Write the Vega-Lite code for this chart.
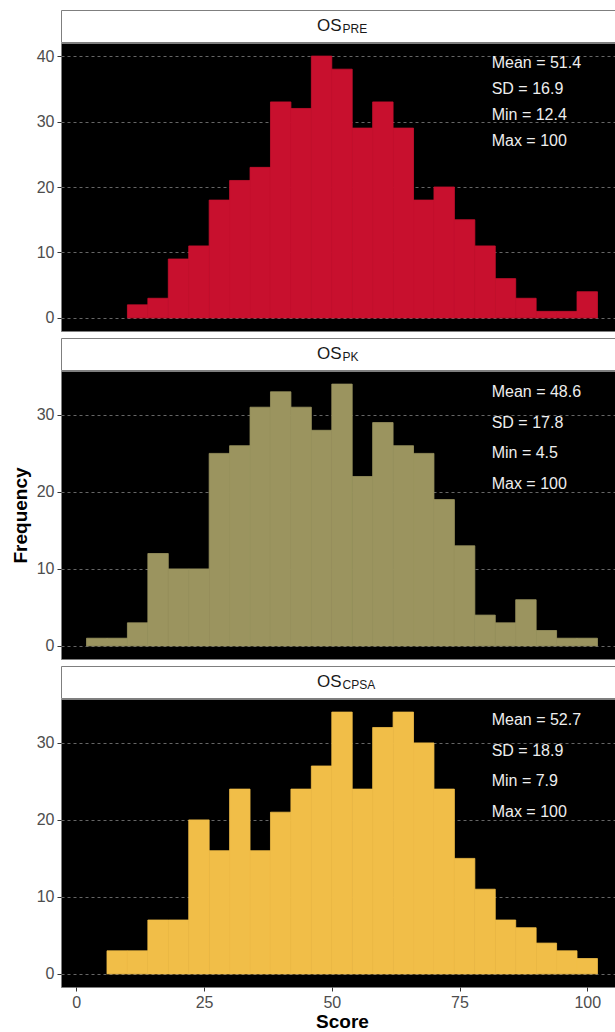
{
  "$schema": "https://vega.github.io/schema/vega-lite/v6.json",
  "padding": {"left": 10, "top": 9, "right": 0, "bottom": 0},
  "background": "#ffffff",
  "config": {"font": "Liberation Sans", "view": {"stroke": null}},
  "datasets": {
    "strips": [
      {"panel": "PRE", "main": "OS", "sub": "PRE"},
      {"panel": "PK", "main": "OS", "sub": "PK"},
      {"panel": "CPSA", "main": "OS", "sub": "CPSA"}
    ],
    "bars": [
      {"panel": "PRE", "lo": 10, "hi": 14, "count": 2},
      {"panel": "PRE", "lo": 14, "hi": 18, "count": 3},
      {"panel": "PRE", "lo": 18, "hi": 22, "count": 9},
      {"panel": "PRE", "lo": 22, "hi": 26, "count": 11},
      {"panel": "PRE", "lo": 26, "hi": 30, "count": 18},
      {"panel": "PRE", "lo": 30, "hi": 34, "count": 21},
      {"panel": "PRE", "lo": 34, "hi": 38, "count": 23},
      {"panel": "PRE", "lo": 38, "hi": 42, "count": 33},
      {"panel": "PRE", "lo": 42, "hi": 46, "count": 32},
      {"panel": "PRE", "lo": 46, "hi": 50, "count": 40},
      {"panel": "PRE", "lo": 50, "hi": 54, "count": 38},
      {"panel": "PRE", "lo": 54, "hi": 58, "count": 29},
      {"panel": "PRE", "lo": 58, "hi": 62, "count": 33},
      {"panel": "PRE", "lo": 62, "hi": 66, "count": 29},
      {"panel": "PRE", "lo": 66, "hi": 70, "count": 18},
      {"panel": "PRE", "lo": 70, "hi": 74, "count": 20},
      {"panel": "PRE", "lo": 74, "hi": 78, "count": 15},
      {"panel": "PRE", "lo": 78, "hi": 82, "count": 11},
      {"panel": "PRE", "lo": 82, "hi": 86, "count": 6},
      {"panel": "PRE", "lo": 86, "hi": 90, "count": 3},
      {"panel": "PRE", "lo": 90, "hi": 94, "count": 1},
      {"panel": "PRE", "lo": 94, "hi": 98, "count": 1},
      {"panel": "PRE", "lo": 98, "hi": 102, "count": 4},
      {"panel": "PK", "lo": 2, "hi": 6, "count": 1},
      {"panel": "PK", "lo": 6, "hi": 10, "count": 1},
      {"panel": "PK", "lo": 10, "hi": 14, "count": 3},
      {"panel": "PK", "lo": 14, "hi": 18, "count": 12},
      {"panel": "PK", "lo": 18, "hi": 22, "count": 10},
      {"panel": "PK", "lo": 22, "hi": 26, "count": 10},
      {"panel": "PK", "lo": 26, "hi": 30, "count": 25},
      {"panel": "PK", "lo": 30, "hi": 34, "count": 26},
      {"panel": "PK", "lo": 34, "hi": 38, "count": 31},
      {"panel": "PK", "lo": 38, "hi": 42, "count": 33},
      {"panel": "PK", "lo": 42, "hi": 46, "count": 31},
      {"panel": "PK", "lo": 46, "hi": 50, "count": 28},
      {"panel": "PK", "lo": 50, "hi": 54, "count": 34},
      {"panel": "PK", "lo": 54, "hi": 58, "count": 22},
      {"panel": "PK", "lo": 58, "hi": 62, "count": 29},
      {"panel": "PK", "lo": 62, "hi": 66, "count": 26},
      {"panel": "PK", "lo": 66, "hi": 70, "count": 25},
      {"panel": "PK", "lo": 70, "hi": 74, "count": 19},
      {"panel": "PK", "lo": 74, "hi": 78, "count": 13},
      {"panel": "PK", "lo": 78, "hi": 82, "count": 4},
      {"panel": "PK", "lo": 82, "hi": 86, "count": 3},
      {"panel": "PK", "lo": 86, "hi": 90, "count": 6},
      {"panel": "PK", "lo": 90, "hi": 94, "count": 2},
      {"panel": "PK", "lo": 94, "hi": 98, "count": 1},
      {"panel": "PK", "lo": 98, "hi": 102, "count": 1},
      {"panel": "CPSA", "lo": 6, "hi": 10, "count": 3},
      {"panel": "CPSA", "lo": 10, "hi": 14, "count": 3},
      {"panel": "CPSA", "lo": 14, "hi": 18, "count": 7},
      {"panel": "CPSA", "lo": 18, "hi": 22, "count": 7},
      {"panel": "CPSA", "lo": 22, "hi": 26, "count": 20},
      {"panel": "CPSA", "lo": 26, "hi": 30, "count": 16},
      {"panel": "CPSA", "lo": 30, "hi": 34, "count": 24},
      {"panel": "CPSA", "lo": 34, "hi": 38, "count": 16},
      {"panel": "CPSA", "lo": 38, "hi": 42, "count": 21},
      {"panel": "CPSA", "lo": 42, "hi": 46, "count": 24},
      {"panel": "CPSA", "lo": 46, "hi": 50, "count": 27},
      {"panel": "CPSA", "lo": 50, "hi": 54, "count": 34},
      {"panel": "CPSA", "lo": 54, "hi": 58, "count": 24},
      {"panel": "CPSA", "lo": 58, "hi": 62, "count": 32},
      {"panel": "CPSA", "lo": 62, "hi": 66, "count": 34},
      {"panel": "CPSA", "lo": 66, "hi": 70, "count": 30},
      {"panel": "CPSA", "lo": 70, "hi": 74, "count": 24},
      {"panel": "CPSA", "lo": 74, "hi": 78, "count": 15},
      {"panel": "CPSA", "lo": 78, "hi": 82, "count": 11},
      {"panel": "CPSA", "lo": 82, "hi": 86, "count": 7},
      {"panel": "CPSA", "lo": 86, "hi": 90, "count": 6},
      {"panel": "CPSA", "lo": 90, "hi": 94, "count": 4},
      {"panel": "CPSA", "lo": 94, "hi": 98, "count": 3},
      {"panel": "CPSA", "lo": 98, "hi": 102, "count": 2}
    ],
    "stats": [
      {"panel": "PRE", "label": "Mean = 51.4", "y": 39},
      {"panel": "PRE", "label": "SD = 16.9", "y": 35},
      {"panel": "PRE", "label": "Min = 12.4", "y": 31},
      {"panel": "PRE", "label": "Max = 100", "y": 27},
      {"panel": "PK", "label": "Mean = 48.6", "y": 33},
      {"panel": "PK", "label": "SD = 17.8", "y": 29},
      {"panel": "PK", "label": "Min = 4.5", "y": 25},
      {"panel": "PK", "label": "Max = 100", "y": 21},
      {"panel": "CPSA", "label": "Mean = 52.7", "y": 33},
      {"panel": "CPSA", "label": "SD = 18.9", "y": 29},
      {"panel": "CPSA", "label": "Min = 7.9", "y": 25},
      {"panel": "CPSA", "label": "Max = 100", "y": 21}
    ]
  },
  "spacing": 5,
  "vconcat": [
    {
      "spacing": -2,
      "vconcat": [
        {
          "width": 562, "height": 32,
          "view": {"fill": "#ffffff", "stroke": "#7f7f7f"},
          "data": {"name": "strips"},
          "transform": [{"filter": "datum.panel === 'PRE'"}],
          "layer": [
            {"mark": {"type": "text", "align": "right", "baseline": "middle", "fontSize": 17, "color": "#1a1a1a", "dx": -0.5}, "encoding": {"text": {"field": "main"}}},
            {"mark": {"type": "text", "align": "left", "baseline": "middle", "fontSize": 12, "color": "#1a1a1a", "dx": 0.5, "dy": 3}, "encoding": {"text": {"field": "sub"}}}
          ]
        },
        {
          "width": 562, "height": 288,
          "view": {"fill": "#000000", "stroke": "#7f7f7f"},
          "layer": [
            {
              "data": {"name": "bars"},
              "transform": [{"filter": "datum.panel === 'PRE'"}],
              "mark": {"type": "rect", "color": "#C8102E", "stroke": "#C8102E", "strokeWidth": 0.8},
              "encoding": {
                "x": {"field": "lo", "type": "quantitative", "scale": {"domain": [-3, 107], "nice": false, "zero": false}, "axis": null},
                "x2": {"field": "hi"},
                "y": {"field": "count", "type": "quantitative", "scale": {"domain": [-2, 42], "nice": false, "zero": false},
                  "axis": {"values": [0, 10, 20, 30, 40], "title": null, "labelFontSize": 16, "labelColor": "#4d4d4d", "tickColor": "#333333", "tickSize": 4, "labelPadding": 3, "domain": false, "grid": true, "gridColor": "#808080", "gridDash": [3, 3], "gridWidth": 0.8}},
                "y2": {"datum": 0}
              }
            },
            {
              "data": {"name": "stats"},
              "transform": [{"filter": "datum.panel === 'PRE'"}],
              "mark": {"type": "text", "align": "left", "baseline": "middle", "fontSize": 16, "color": "#eeeeee"},
              "encoding": {
                "x": {"datum": 81.3, "type": "quantitative"},
                "y": {"field": "y", "type": "quantitative"},
                "text": {"field": "label"}
              }
            }
          ]
        }
      ]
    },
    {
      "spacing": -2,
      "vconcat": [
        {
          "width": 562, "height": 32,
          "view": {"fill": "#ffffff", "stroke": "#7f7f7f"},
          "data": {"name": "strips"},
          "transform": [{"filter": "datum.panel === 'PK'"}],
          "layer": [
            {"mark": {"type": "text", "align": "right", "baseline": "middle", "fontSize": 17, "color": "#1a1a1a", "dx": -0.5}, "encoding": {"text": {"field": "main"}}},
            {"mark": {"type": "text", "align": "left", "baseline": "middle", "fontSize": 12, "color": "#1a1a1a", "dx": 0.5, "dy": 3}, "encoding": {"text": {"field": "sub"}}}
          ]
        },
        {
          "width": 562, "height": 288,
          "view": {"fill": "#000000", "stroke": "#7f7f7f"},
          "layer": [
            {
              "data": {"name": "bars"},
              "transform": [{"filter": "datum.panel === 'PK'"}],
              "mark": {"type": "rect", "color": "#9B945F", "stroke": "#9B945F", "strokeWidth": 0.8},
              "encoding": {
                "x": {"field": "lo", "type": "quantitative", "scale": {"domain": [-3, 107], "nice": false, "zero": false}, "axis": null},
                "x2": {"field": "hi"},
                "y": {"field": "count", "type": "quantitative", "scale": {"domain": [-1.7, 35.7], "nice": false, "zero": false},
                  "axis": {"values": [0, 10, 20, 30], "title": "Frequency", "titleFontSize": 19, "titleFontWeight": "bold", "titleColor": "#000000", "titlePadding": 6, "labelFontSize": 16, "labelColor": "#4d4d4d", "tickColor": "#333333", "tickSize": 4, "labelPadding": 3, "domain": false, "grid": true, "gridColor": "#808080", "gridDash": [3, 3], "gridWidth": 0.8}},
                "y2": {"datum": 0}
              }
            },
            {
              "data": {"name": "stats"},
              "transform": [{"filter": "datum.panel === 'PK'"}],
              "mark": {"type": "text", "align": "left", "baseline": "middle", "fontSize": 16, "color": "#eeeeee"},
              "encoding": {
                "x": {"datum": 81.3, "type": "quantitative"},
                "y": {"field": "y", "type": "quantitative"},
                "text": {"field": "label"}
              }
            }
          ]
        }
      ]
    },
    {
      "spacing": -2,
      "vconcat": [
        {
          "width": 562, "height": 32,
          "view": {"fill": "#ffffff", "stroke": "#7f7f7f"},
          "data": {"name": "strips"},
          "transform": [{"filter": "datum.panel === 'CPSA'"}],
          "layer": [
            {"mark": {"type": "text", "align": "right", "baseline": "middle", "fontSize": 17, "color": "#1a1a1a", "dx": -0.5}, "encoding": {"text": {"field": "main"}}},
            {"mark": {"type": "text", "align": "left", "baseline": "middle", "fontSize": 12, "color": "#1a1a1a", "dx": 0.5, "dy": 3}, "encoding": {"text": {"field": "sub"}}}
          ]
        },
        {
          "width": 562, "height": 288,
          "view": {"fill": "#000000", "stroke": "#7f7f7f"},
          "layer": [
            {
              "data": {"name": "bars"},
              "transform": [{"filter": "datum.panel === 'CPSA'"}],
              "mark": {"type": "rect", "color": "#F1BE48", "stroke": "#F1BE48", "strokeWidth": 0.8},
              "encoding": {
                "x": {"field": "lo", "type": "quantitative", "scale": {"domain": [-3, 107], "nice": false, "zero": false},
                  "axis": {"values": [0, 25, 50, 75, 100], "title": "Score", "titleFontSize": 19, "titleFontWeight": "bold", "titleColor": "#000000", "titlePadding": 2, "labelFontSize": 16, "labelColor": "#4d4d4d", "tickColor": "#333333", "tickSize": 4, "labelPadding": 3, "domain": false, "grid": false}},
                "x2": {"field": "hi"},
                "y": {"field": "count", "type": "quantitative", "scale": {"domain": [-1.7, 35.7], "nice": false, "zero": false},
                  "axis": {"values": [0, 10, 20, 30], "title": null, "labelFontSize": 16, "labelColor": "#4d4d4d", "tickColor": "#333333", "tickSize": 4, "labelPadding": 3, "domain": false, "grid": true, "gridColor": "#808080", "gridDash": [3, 3], "gridWidth": 0.8}},
                "y2": {"datum": 0}
              }
            },
            {
              "data": {"name": "stats"},
              "transform": [{"filter": "datum.panel === 'CPSA'"}],
              "mark": {"type": "text", "align": "left", "baseline": "middle", "fontSize": 16, "color": "#eeeeee"},
              "encoding": {
                "x": {"datum": 81.3, "type": "quantitative"},
                "y": {"field": "y", "type": "quantitative"},
                "text": {"field": "label"}
              }
            }
          ]
        }
      ]
    }
  ]
}
